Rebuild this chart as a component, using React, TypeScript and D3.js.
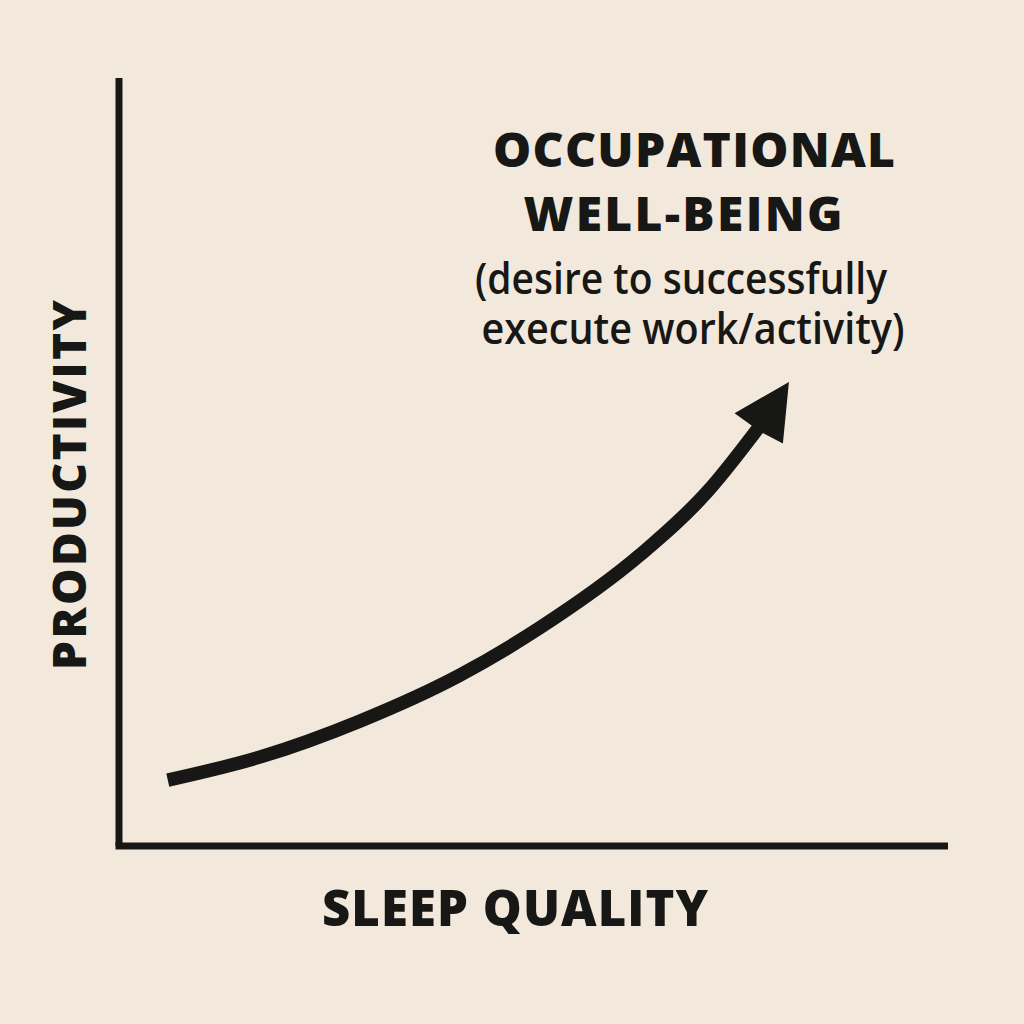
import React from "react";
import * as d3 from "d3";

// Curve (sleep quality -> productivity), values in data units 0..100
const curveX = [5.9, 17.0, 29.1, 41.2, 50.9, 63.0, 71.1, 77.6];
const curveY = [8.6, 11.6, 16.3, 22.3, 28.5, 38.0, 46.2, 55.0];
// Arrowhead polygon (tip, left barb, left notch, right notch, right barb)
const headX = [80.9, 74.6, 76.5, 77.9, 80.2];
const headY = [60.4, 56.5, 55.0, 54.0, 52.7];

const titleLines = ["OCCUPATIONAL", "WELL-BEING"];
const subtitleLines = ["(desire to successfully", "execute work/activity)"];
const xLabel = "SLEEP QUALITY";
const yLabel = "PRODUCTIVITY";

const BG = "#f2e9dc";
const INK = "#171715";
const FONT = "'Open Sans', 'Noto Sans', sans-serif";

export default function App() {
  const x = d3.scaleLinear().domain([0, 100]).range([119, 946]);
  const y = d3.scaleLinear().domain([0, 100]).range([846, 80]);

  const pts: [number, number][] = curveX.map((v, i) => [x(v), y(curveY[i])]);
  const line = d3.line().curve(d3.curveMonotoneX)(pts) || "";
  const head = headX.map((v, i) => [x(v), y(headY[i])].join(",")).join(" ");

  const [x0, x1] = x.range();
  const [y0, y1] = y.range();

  return (
    <svg
      width={1024}
      height={1024}
      style={{ position: "absolute", left: 0, top: 0, background: BG }}
    >
      <rect x={0} y={0} width={1024} height={1024} fill={BG} />
      {/* axes */}
      <path
        d={`M${x0},${y1 - 2}V${y0}`}
        stroke={INK}
        strokeWidth={7}
        fill="none"
      />
      <path
        d={`M${x0 - 3.5},${y0}H${x1 + 2}`}
        stroke={INK}
        strokeWidth={7}
        fill="none"
      />
      {/* curve */}
      <path d={line} stroke={INK} strokeWidth={13.5} fill="none" strokeLinecap="butt" />
      <polygon points={head} fill={INK} stroke={INK} strokeWidth={1.5} strokeLinejoin="miter" />

      {/* title */}
      <g fill={INK} fontFamily={FONT}>
        <text x={694} y={167} textAnchor="middle" fontSize={48} fontWeight={800}
          textLength={402} lengthAdjust="spacing">{titleLines[0]}</text>
        <text x={683} y={231} textAnchor="middle" fontSize={48} fontWeight={800}
          textLength={319} lengthAdjust="spacing">{titleLines[1]}</text>
        <text x={681} y={294} textAnchor="middle" fontSize={43} fontWeight={600}
          textLength={412} lengthAdjust="spacingAndGlyphs">{subtitleLines[0]}</text>
        <text x={693} y={344} textAnchor="middle" fontSize={43} fontWeight={600}
          textLength={423} lengthAdjust="spacingAndGlyphs">{subtitleLines[1]}</text>

        <text x={515} y={926} textAnchor="middle" fontSize={49} fontWeight={800}
          textLength={386} lengthAdjust="spacing">{xLabel}</text>
        <text transform="translate(86,485) rotate(-90)" textAnchor="middle" fontSize={46}
          fontWeight={800} textLength={370} lengthAdjust="spacing">{yLabel}</text>
      </g>
    </svg>
  );
}
